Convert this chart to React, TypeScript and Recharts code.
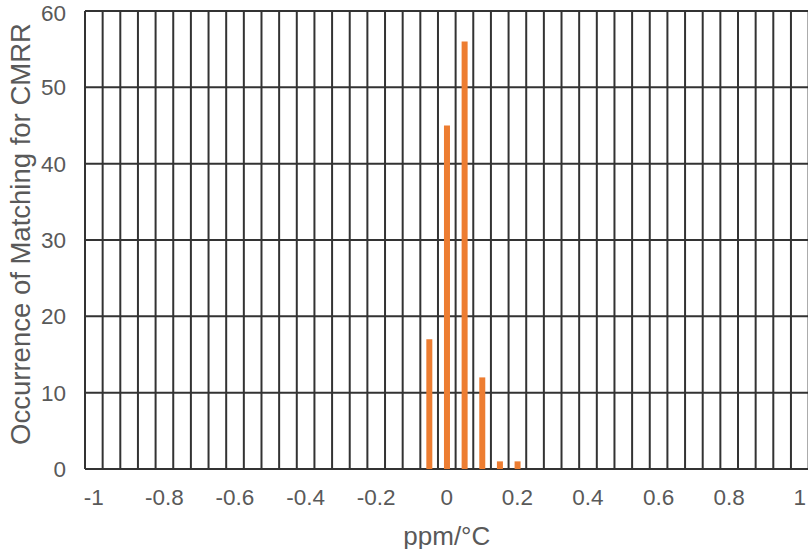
import { BarChart, Bar, XAxis, YAxis, CartesianGrid, Label } from "recharts";

// bins of the histogram (ppm/°C)
const ppmBins = [
  -1, -0.95, -0.9, -0.85, -0.8, -0.75, -0.7, -0.65, -0.6, -0.55, -0.5,
  -0.45, -0.4, -0.35, -0.3, -0.25, -0.2, -0.15, -0.1, -0.05, 0,
  0.05, 0.1, 0.15, 0.2, 0.25, 0.3, 0.35, 0.4, 0.45, 0.5,
  0.55, 0.6, 0.65, 0.7, 0.75, 0.8, 0.85, 0.9, 0.95, 1,
];

const occurrences = [
  0, 0, 0, 0, 0, 0, 0, 0, 0, 0, 0,
  0, 0, 0, 0, 0, 0, 0, 0, 17, 45,
  56, 12, 1, 1, 0, 0, 0, 0, 0, 0,
  0, 0, 0, 0, 0, 0, 0, 0, 0, 0,
];

const yTicks = [0, 10, 20, 30, 40, 50, 60];

const data = ppmBins.map((ppm, i) => ({ ppm, count: occurrences[i] }));

const FONT = "'Liberation Sans', Arial, sans-serif";
const TEXT = "#595959";

export default function App() {
  return (
    <div
      style={{
        position: "absolute",
        left: 0,
        top: 0,
        width: 808,
        height: 549,
        overflow: "hidden",
        background: "#fff",
      }}
    >
      <BarChart
        width={820}
        height={549}
        data={data}
        margin={{ top: 11, right: 11.4, left: 15, bottom: 0 }}
        barSize={6}
        style={{ fontFamily: FONT }}
      >
        {/* grid lines sit on the bin boundaries, not on the bin centres */}
        <CartesianGrid
          stroke="#333"
          strokeWidth={2}
          verticalCoordinatesGenerator={({ offset }: any) =>
            [...ppmBins, null].map(
              (_, i) => offset.left + (i * offset.width) / ppmBins.length
            )
          }
        />
        <XAxis
          dataKey="ppm"
          type="category"
          interval={3}
          height={80}
          axisLine={false}
          tickLine={false}
          tickSize={0}
          tickMargin={20}
          tick={{ fill: TEXT, fontSize: 22.5 }}
        >
          <Label
            value="ppm/°C"
            position="insideBottom"
            offset={4}
            fill={TEXT}
            fontSize={26}
          />
        </XAxis>
        <YAxis
          domain={[0, 60]}
          ticks={yTicks}
          width={70}
          axisLine={false}
          tickLine={false}
          tickSize={0}
          tickMargin={19}
          tick={{ fill: TEXT, fontSize: 22.5 }}
        >
          <Label
            content={({ viewBox }: any) => {
              const x = viewBox.x + 15;
              const y = viewBox.y + viewBox.height / 2 - 6;
              return (
                <text
                  x={x}
                  y={y}
                  transform={`rotate(-90, ${x}, ${y})`}
                  textAnchor="middle"
                  fill={TEXT}
                  fontSize={27.5}
                  fontFamily={FONT}
                >
                  Occurrence of Matching for CMRR
                </text>
              );
            }}
          />
        </YAxis>
        <Bar dataKey="count" fill="#ED7D31" isAnimationActive={false} />
      </BarChart>
    </div>
  );
}
